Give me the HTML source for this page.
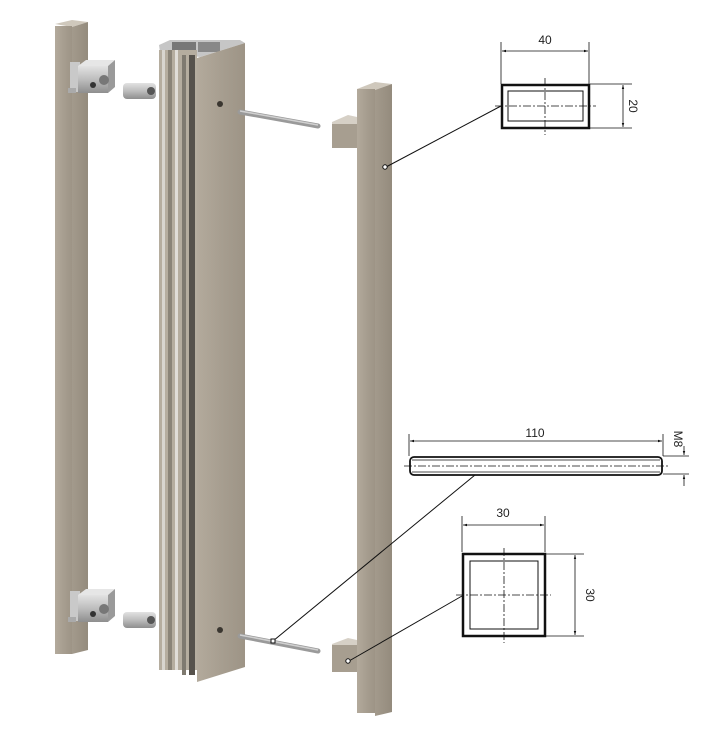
<!DOCTYPE html>
<html><head><meta charset="utf-8"><style>
html,body{margin:0;padding:0;background:#fff;width:721px;height:740px;overflow:hidden}
text{font-family:"Liberation Sans",sans-serif;font-size:12px;fill:#222}
</style></head><body>
<svg width="721" height="740" viewBox="0 0 721 740" xmlns="http://www.w3.org/2000/svg">
<defs>
<linearGradient id="bar" x1="0" x2="1"><stop offset="0" stop-color="#b3aa9c"/><stop offset="0.5" stop-color="#a79e90"/><stop offset="1" stop-color="#9d9486"/></linearGradient>
<linearGradient id="side" x1="0" x2="1"><stop offset="0" stop-color="#a39a8c"/><stop offset="1" stop-color="#948b7d"/></linearGradient>
<linearGradient id="metal" x1="0" x2="0" y1="0" y2="1"><stop offset="0" stop-color="#e2e2e2"/><stop offset="0.5" stop-color="#bdbdbd"/><stop offset="1" stop-color="#8e8e8e"/></linearGradient>
<marker id="a" viewBox="0 0 10 10" refX="10" refY="5" markerWidth="5" markerHeight="5" orient="auto-start-reverse"><path d="M0,2L10,5L0,8z" fill="#111"/></marker>
</defs>
<!-- left bar -->
<polygon points="55,24 72,20 88,22 72,27" fill="#cfc8bc"/>
<rect x="55" y="26" width="17" height="628" fill="url(#bar)"/>
<polygon points="72,27 88,22 88,650 72,654" fill="url(#side)"/>
<!-- left brackets -->
<g>
<rect x="70" y="62" width="10" height="30" fill="#c9c9c9"/>
<polygon points="78,66 108,66 115,60 86,60" fill="#e6e6e6"/>
<rect x="78" y="66" width="30" height="27" fill="url(#metal)"/>
<polygon points="108,66 115,60 115,87 108,93" fill="#9a9a9a"/>
<circle cx="93" cy="85" r="3" fill="#333"/>
<circle cx="104" cy="80" r="5" fill="#777"/>
<rect x="68" y="88" width="8" height="5" fill="#aaa"/>
<rect x="123" y="83" width="33" height="16" rx="4" fill="url(#metal)"/>
<circle cx="151" cy="91" r="4" fill="#555"/>
</g>
<g transform="translate(0,529)">
<rect x="70" y="62" width="10" height="30" fill="#c9c9c9"/>
<polygon points="78,66 108,66 115,60 86,60" fill="#e6e6e6"/>
<rect x="78" y="66" width="30" height="27" fill="url(#metal)"/>
<polygon points="108,66 115,60 115,87 108,93" fill="#9a9a9a"/>
<circle cx="93" cy="85" r="3" fill="#333"/>
<circle cx="104" cy="80" r="5" fill="#777"/>
<rect x="68" y="88" width="8" height="5" fill="#aaa"/>
<rect x="123" y="83" width="33" height="16" rx="4" fill="url(#metal)"/>
<circle cx="151" cy="91" r="4" fill="#555"/>
</g>
<!-- middle profile -->
<polygon points="159,45 170,40 240,40 245,43 200,57 160,52" fill="#c6c6c6"/>
<rect x="172" y="42" width="24" height="10" fill="#777"/>
<rect x="198" y="42" width="22" height="10" fill="#888"/>
<rect x="159" y="50" width="38" height="620" fill="#b5ad9f"/>
<rect x="162" y="50" width="3" height="620" fill="#d8d5cf"/>
<rect x="168" y="50" width="4" height="620" fill="#8a8478"/>
<rect x="175" y="50" width="3" height="620" fill="#e0ddd8"/>
<rect x="182" y="55" width="4" height="620" fill="#7f7a70"/>
<rect x="189" y="55" width="6" height="620" fill="#56524c"/>
<polygon points="197,58 245,43 245,667 197,682" fill="url(#bar)"/>
<circle cx="220" cy="104" r="3" fill="#3a3630"/>
<circle cx="220" cy="630" r="3" fill="#3a3630"/>
<!-- rods -->
<line x1="240" y1="112" x2="318" y2="126" stroke="#9a9a9a" stroke-width="5" stroke-linecap="round"/>
<line x1="240" y1="111" x2="318" y2="125" stroke="#d0d0d0" stroke-width="1.5"/>
<line x1="240" y1="636" x2="318" y2="651" stroke="#9a9a9a" stroke-width="5" stroke-linecap="round"/>
<line x1="240" y1="635" x2="318" y2="650" stroke="#d0d0d0" stroke-width="1.5"/>
<!-- right handle -->
<polygon points="357,89 375,82 392,84 375,90" fill="#cfc8bc"/>
<rect x="357" y="89" width="18" height="624" fill="url(#bar)"/>
<polygon points="375,90 392,84 392,712 375,716" fill="url(#side)"/>
<polygon points="332,122 348,115 357,117 357,126 332,126" fill="#d6d0c6"/>
<rect x="332" y="124" width="25" height="24" fill="#a79e90"/>
<polygon points="332,644 348,638 357,640 357,647 332,647" fill="#d6d0c6"/>
<rect x="332" y="645" width="25" height="27" fill="#a79e90"/>
<!-- leaders -->
<g stroke="#111" stroke-width="1" fill="none">
<line x1="386" y1="167" x2="501" y2="106"/>
<circle cx="385" cy="167" r="2.2" fill="#fff"/>
<line x1="273" y1="641" x2="475" y2="475"/>
<rect x="271" y="639" width="4" height="4" fill="#fff"/>
<line x1="349" y1="661" x2="462" y2="596"/>
<circle cx="348" cy="661" r="2.2" fill="#fff"/>
</g>
<!-- top section 40x20 -->
<g stroke="#111" fill="none">
<rect x="502" y="85" width="87" height="43" stroke-width="2.5"/>
<rect x="508" y="91" width="75" height="30" stroke-width="1"/>
<line x1="495" y1="106" x2="596" y2="106" stroke-width="0.8" stroke-dasharray="8,2,2,2"/>
<line x1="545" y1="78" x2="545" y2="135" stroke-width="0.8" stroke-dasharray="8,2,2,2"/>
<line x1="501" y1="42" x2="501" y2="84" stroke-width="0.8"/>
<line x1="589" y1="42" x2="589" y2="84" stroke-width="0.8"/>
<line x1="502" y1="51" x2="588" y2="51" stroke-width="0.8" marker-start="url(#a)" marker-end="url(#a)"/>
<line x1="590" y1="84" x2="632" y2="84" stroke-width="0.8"/>
<line x1="590" y1="128" x2="632" y2="128" stroke-width="0.8"/>
<line x1="623" y1="85" x2="623" y2="127" stroke-width="0.8" marker-start="url(#a)" marker-end="url(#a)"/>
</g>
<text x="545" y="44" text-anchor="middle">40</text>
<text transform="translate(629,106) rotate(90)" text-anchor="middle">20</text>
<!-- rod section -->
<g stroke="#111" fill="none">
<rect x="410" y="457" width="252" height="18" rx="4" stroke-width="1.8"/>
<line x1="412" y1="460" x2="660" y2="460" stroke-width="0.7"/>
<line x1="412" y1="472" x2="660" y2="472" stroke-width="0.7"/>
<line x1="404" y1="466" x2="668" y2="466" stroke-width="0.7" stroke-dasharray="8,2,2,2"/>
<line x1="409" y1="434" x2="409" y2="456" stroke-width="0.8"/>
<line x1="663" y1="434" x2="663" y2="456" stroke-width="0.8"/>
<line x1="410" y1="441" x2="662" y2="441" stroke-width="0.8" marker-start="url(#a)" marker-end="url(#a)"/>
<line x1="663" y1="456" x2="689" y2="456" stroke-width="0.8"/>
<line x1="663" y1="474" x2="689" y2="474" stroke-width="0.8"/>
<line x1="684" y1="446" x2="684" y2="455" stroke-width="0.8" marker-end="url(#a)"/>
<line x1="684" y1="486" x2="684" y2="475" stroke-width="0.8" marker-end="url(#a)"/>
</g>
<text x="535" y="437" text-anchor="middle">110</text>
<text transform="translate(674,439) rotate(90)" text-anchor="middle">M8</text>
<!-- square 30x30 -->
<g stroke="#111" fill="none">
<rect x="463" y="554" width="82" height="82" stroke-width="2.5"/>
<rect x="470" y="561" width="68" height="68" stroke-width="1"/>
<line x1="456" y1="595" x2="551" y2="595" stroke-width="0.8" stroke-dasharray="8,2,2,2"/>
<line x1="504" y1="548" x2="504" y2="643" stroke-width="0.8" stroke-dasharray="8,2,2,2"/>
<line x1="462" y1="516" x2="462" y2="552" stroke-width="0.8"/>
<line x1="545" y1="516" x2="545" y2="552" stroke-width="0.8"/>
<line x1="463" y1="525" x2="544" y2="525" stroke-width="0.8" marker-start="url(#a)" marker-end="url(#a)"/>
<line x1="546" y1="554" x2="584" y2="554" stroke-width="0.8"/>
<line x1="546" y1="636" x2="584" y2="636" stroke-width="0.8"/>
<line x1="575" y1="555" x2="575" y2="635" stroke-width="0.8" marker-start="url(#a)" marker-end="url(#a)"/>
</g>
<text x="503" y="517" text-anchor="middle">30</text>
<text transform="translate(586,595) rotate(90)" text-anchor="middle">30</text>
</svg>
</body></html>
